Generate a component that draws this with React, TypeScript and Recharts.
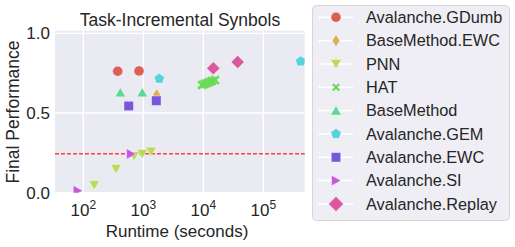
import React from 'react';
import { ScatterChart, Scatter, XAxis, YAxis, CartesianGrid, ReferenceLine, Legend } from 'recharts';

const METHODS = ['Avalanche.GDumb', 'BaseMethod.EWC', 'PNN', 'HAT', 'BaseMethod', 'Avalanche.GEM', 'Avalanche.EWC', 'Avalanche.SI', 'Avalanche.Replay'];
const COLORS = ['#db5f57', '#dbae57', '#b9db57', '#69db57', '#57db94', '#57d3db', '#7957db', '#c857db', '#db579e'];
const MARKERS = ['circle', 'thinDiamond', 'triDown', 'x', 'triUp', 'pentagon', 'square', 'triRight', 'diamond'];

const GDUMB_RUNTIME = [374, 848];
const GDUMB_PERF = [0.762, 0.764];
const BASE_EWC_RUNTIME = [1672];
const BASE_EWC_PERF = [0.615];
const PNN_RUNTIME = [152, 351, 700, 962, 1343];
const PNN_PERF = [0.048, 0.149, 0.23, 0.243, 0.258];
const HAT_RUNTIME = [9510, 10470, 11520, 12680, 13960, 15670];
const HAT_PERF = [0.676, 0.682, 0.688, 0.694, 0.701, 0.707];
const BASE_RUNTIME = [414, 961];
const BASE_PERF = [0.629, 0.629];
const GEM_RUNTIME = [1848, 420000];
const GEM_PERF = [0.715, 0.824];
const AV_EWC_RUNTIME = [571, 1648];
const AV_EWC_PERF = [0.544, 0.577];
const SI_RUNTIME = [80.7, 624];
const SI_PERF = [0.0125, 0.243];
const REPLAY_RUNTIME = [14680, 37400];
const REPLAY_PERF = [0.78, 0.82];

const X_TICKS = [100, 1000, 10000, 100000];
const Y_TICKS = [0, 0.5, 1.0];
const CHANCE_LEVEL = 0.245;

const RUNTIMES = [GDUMB_RUNTIME, BASE_EWC_RUNTIME, PNN_RUNTIME, HAT_RUNTIME, BASE_RUNTIME, GEM_RUNTIME, AV_EWC_RUNTIME, SI_RUNTIME, REPLAY_RUNTIME];
const PERFS = [GDUMB_PERF, BASE_EWC_PERF, PNN_PERF, HAT_PERF, BASE_PERF, GEM_PERF, AV_EWC_PERF, SI_PERF, REPLAY_PERF];

const FONT = '"Liberation Sans", Arial, sans-serif';
const TEXT = '#262626';

function Marker({ kind, cx, cy, color, k = 1 }: { kind: string; cx: number; cy: number; color: string; k?: number }) {
  const common = { fill: color, stroke: '#ffffff', strokeOpacity: 0.5, strokeWidth: 0.7 };
  const pts = (arr: number[][]) => arr.map(([a, b]) => `${cx + a * k},${cy + b * k}`).join(' ');
  switch (kind) {
    case 'circle':
      return <circle cx={cx} cy={cy} r={5 * k} {...common} />;
    case 'thinDiamond':
      return <polygon points={pts([[0, -6], [3.8, 0], [0, 6], [-3.8, 0]])} {...common} />;
    case 'triDown':
      return <polygon points={pts([[-5.2, -4.4], [5.2, -4.4], [0, 4.8]])} {...common} />;
    case 'triUp':
      return <polygon points={pts([[0, -4.8], [5.2, 4.4], [-5.2, 4.4]])} {...common} />;
    case 'triRight':
      return <polygon points={pts([[-4.4, -5.2], [4.8, 0], [-4.4, 5.2]])} {...common} />;
    case 'square':
      return <rect x={cx - 4.7 * k} y={cy - 4.7 * k} width={9.4 * k} height={9.4 * k} {...common} />;
    case 'diamond':
      return <polygon points={pts([[0, -6.5], [6.5, 0], [0, 6.5], [-6.5, 0]])} {...common} />;
    case 'pentagon': {
      const arr: number[][] = [];
      for (let i = 0; i < 5; i++) {
        const a = (-90 + 72 * i) * Math.PI / 180;
        arr.push([5.4 * Math.cos(a), 5.4 * Math.sin(a)]);
      }
      return <polygon points={pts(arr)} {...common} />;
    }
    case 'x': {
      const e = 2.9 * k;
      return (
        <g stroke={color} strokeWidth={2.6 * k} strokeLinecap="square">
          <line x1={cx - e} y1={cy - e} x2={cx + e} y2={cy + e} />
          <line x1={cx - e} y1={cy + e} x2={cx + e} y2={cy - e} />
        </g>
      );
    }
    default:
      return null;
  }
}

const XTick = (props: any) => {
  const { x, payload } = props;
  const exp = Math.round(Math.log10(payload.value));
  return (
    <text x={x} y={216} textAnchor="middle" fill={TEXT} fontSize={17} fontFamily={FONT}>
      <tspan>10</tspan>
      <tspan fontSize={12} dy={-7.5}>{exp}</tspan>
    </text>
  );
};

const YTick = (props: any) => {
  const { y, payload } = props;
  return (
    <text x={50} y={y} dy="0.36em" textAnchor="end" fill={TEXT} fontSize={17} fontFamily={FONT}>
      {Number(payload.value).toFixed(1)}
    </text>
  );
};

const LegendBox = () => (
  <svg width={199} height={217} style={{ display: 'block' }}>
    <rect x={0.5} y={0.5} width={197} height={215} rx={4} fill="#EEEEF4" stroke="#D6D6DA" />
    {METHODS.map((m, i) => {
      const cy = 12.3 + 23.33 * i;
      return (
        <g key={m}>
          <line x1={6.3} x2={41} y1={cy} y2={cy} stroke="#ffffff" strokeWidth={1.5} />
          <Marker kind={MARKERS[i]} cx={24} cy={cy} color={COLORS[i]} k={i === 8 ? 1.15 : i === 3 ? 0.85 : 1} />
          <text x={54} y={cy} dy="0.36em" fontSize={16.3} fill={TEXT} fontFamily={FONT}>{m}</text>
        </g>
      );
    })}
  </svg>
);

export default function App() {
  const series = METHODS.map((m, i) => ({
    name: m,
    data: RUNTIMES[i].map((x, j) => ({ x, y: PERFS[i][j] })),
  }));
  return (
    <div style={{ position: 'absolute', left: 0, top: 0, width: 515, height: 247, fontFamily: FONT }}>
      <ScatterChart width={515} height={247} margin={{ top: 30.7, right: 210.3, bottom: 0, left: 0 }}>
        <CartesianGrid fill="#EAEAF2" stroke="#ffffff" strokeWidth={1.3} horizontalValues={Y_TICKS} verticalValues={X_TICKS} />
        <XAxis
          dataKey="x"
          type="number"
          scale="log"
          domain={[33.75, 489800]}
          allowDataOverflow
          ticks={X_TICKS}
          height={54.3}
          axisLine={false}
          tickLine={false}
          tick={<XTick />}
          label={{
            content: () => (
              <text x={177} y={237} textAnchor="middle" fontSize={17} fill={TEXT} fontFamily={FONT}>Runtime (seconds)</text>
            ),
          }}
        />
        <YAxis
          dataKey="y"
          type="number"
          domain={[0, 1.0163]}
          allowDataOverflow
          ticks={Y_TICKS}
          width={55}
          axisLine={false}
          tickLine={false}
          tick={<YTick />}
          label={{
            content: () => (
              <g>
                <text x={18.5} y={112} transform="rotate(-90 18.5 112)" textAnchor="middle" fontSize={17.5} fill={TEXT} fontFamily={FONT}>Final Performance</text>
                <text x={180} y={26} textAnchor="middle" fontSize={17.5} fill={TEXT} fontFamily={FONT}>Task-Incremental Synbols</text>
              </g>
            ),
          }}
        />
        <ReferenceLine y={CHANCE_LEVEL} stroke="#ff3f3f" strokeWidth={1.5} strokeDasharray="4 2" />
        {series.map((s, i) => (
          <Scatter
            key={s.name}
            name={s.name}
            data={s.data}
            fill={COLORS[i]}
            isAnimationActive={false}
            shape={(p: any) => <Marker kind={MARKERS[i]} cx={p.cx} cy={p.cy} color={COLORS[i]} />}
          />
        ))}
        <Legend
          layout="vertical"
          align="center"
          verticalAlign="middle"
          wrapperStyle={{ position: 'absolute', left: 311.5, top: 4.5, width: 199, height: 217 }}
          content={() => <LegendBox />}
        />
      </ScatterChart>
    </div>
  );
}
